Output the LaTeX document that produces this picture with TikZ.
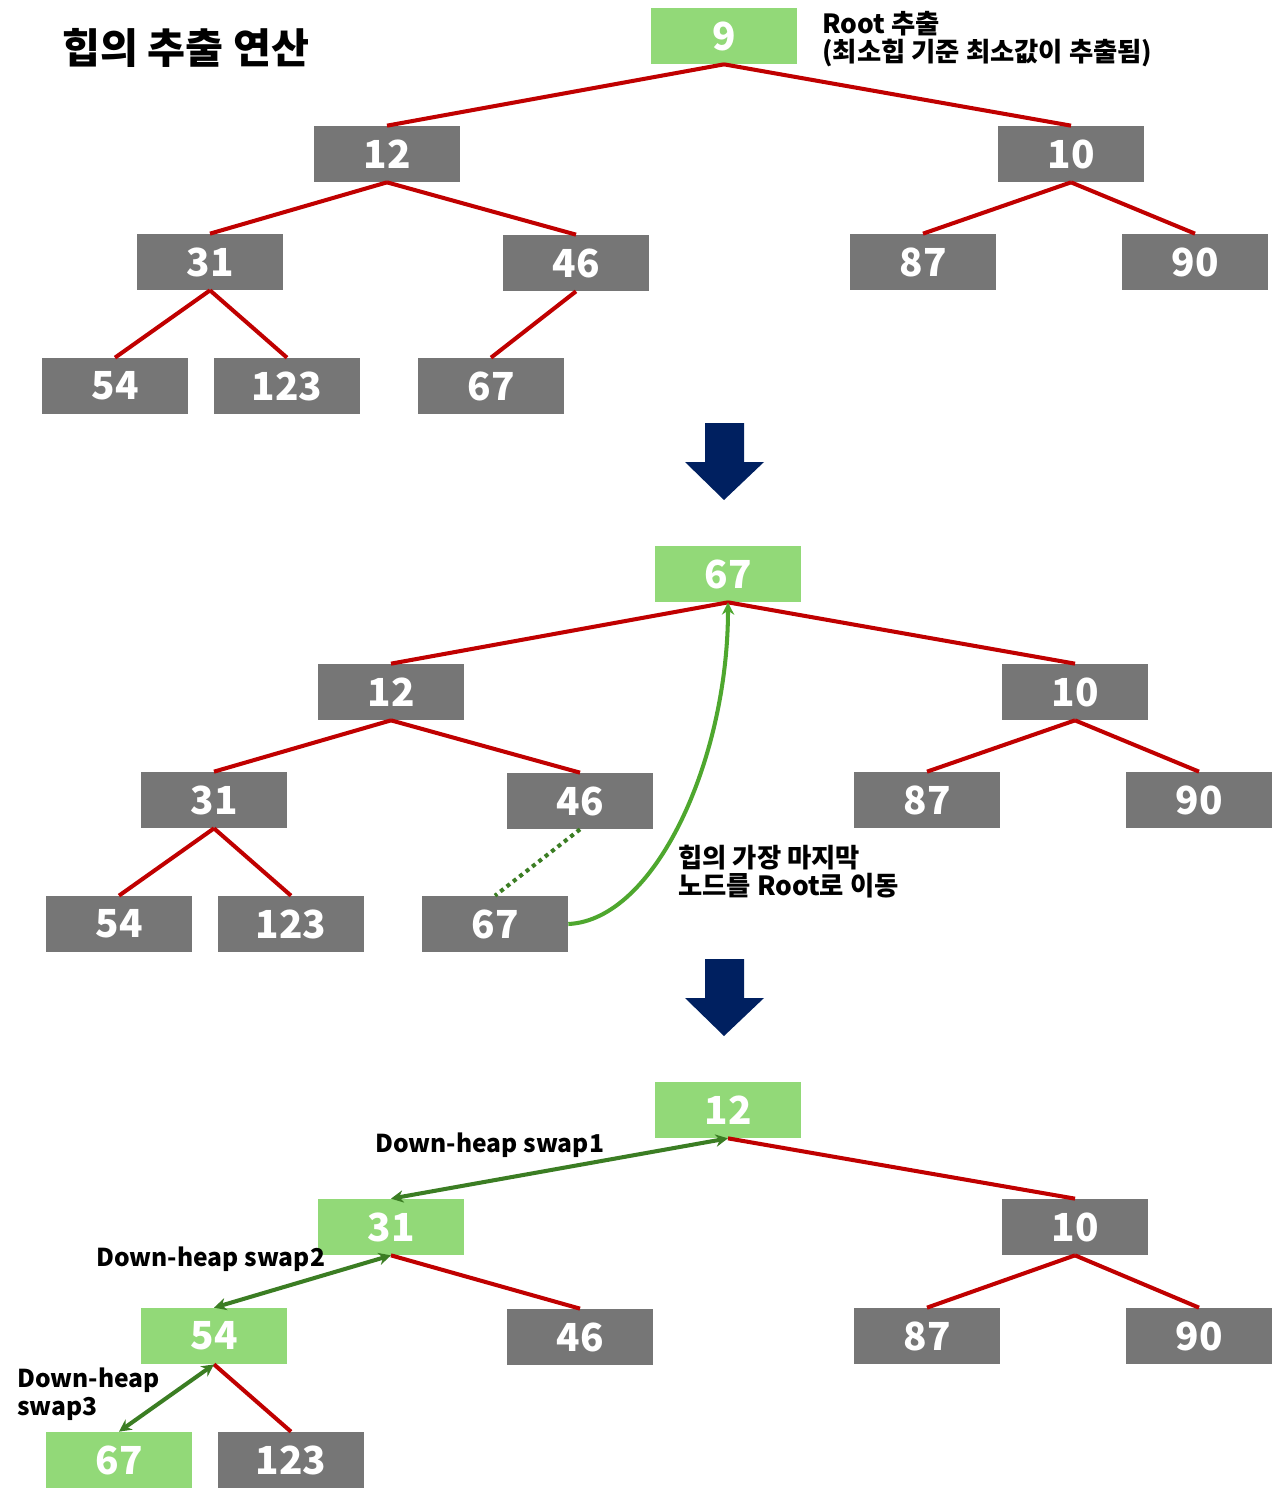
\documentclass[tikz,border=0pt]{standalone}
\usepackage{fontspec}
\usetikzlibrary{arrows.meta}
\setmainfont{Noto Sans CJK KR}
\definecolor{heapgrey}{HTML}{767676}
\definecolor{heapgreen}{HTML}{92D978}
\definecolor{heapred}{HTML}{C00000}
\definecolor{heapnavy}{HTML}{002060}
\definecolor{movegreen}{HTML}{4EA72E}
\definecolor{swapgreen}{HTML}{3B7D23}
\tikzset{
  hnode/.style={fill=heapgrey, text=white, minimum width=2.92cm, minimum height=1.12cm,
    inner sep=0pt, font=\fontsize{22}{24}\selectfont\bfseries},
  hot/.style={hnode, fill=heapgreen},
  edge/.style={heapred, line width=2.3pt},
  swap/.style={<->, swapgreen, line width=2.3pt},
  note/.style={font=\fontsize{14}{16}\selectfont\bfseries, align=left, inner sep=0pt},
  knote/.style={note, font=\fontsize{15}{16}\selectfont\bfseries}
}
\begin{document}
\begin{tikzpicture}[x=0.02cm, y=-0.02cm, >={Stealth[length=7pt,width=7pt]}]
    \useasboundingbox (0,0) rectangle (1278,1507);

    \node[anchor=west, inner sep=0pt, font=\fontsize{23.5}{26}\selectfont\bfseries] (title) at (62,48) {힙의 추출 연산};

    % Tree 1
    \node[hot] (a9) at (724,36) {9};
    \node[hnode] (a12) at (387,154) {12};
    \node[hnode] (a10) at (1071,154) {10};
    \node[hnode] (a31) at (210,262) {31};
    \node[hnode] (a46) at (576,263) {46};
    \node[hnode] (a87) at (923,262) {87};
    \node[hnode] (a90) at (1195,262) {90};
    \node[hnode] (a54) at (115,386) {54};
    \node[hnode] (a123) at (287,386) {123};
    \node[hnode] (a67) at (491,386) {67};
    \draw[edge] (a9.south) -- (a12.north);
    \draw[edge] (a9.south) -- (a10.north);
    \draw[edge] (a12.south) -- (a31.north);
    \draw[edge] (a12.south) -- (a46.north);
    \draw[edge] (a10.south) -- (a87.north);
    \draw[edge] (a10.south) -- (a90.north);
    \draw[edge] (a31.south) -- (a54.north);
    \draw[edge] (a31.south) -- (a123.north);
    \draw[edge] (a46.south) -- (a67.north);
    \node[knote, anchor=north west] (rootnote) at (822,11) {Root 추출\\(최소힙 기준 최소값이 추출됨)};

    \fill[heapnavy] (705,423) -- (744,423) -- (744,462) -- (764,462) -- (724,500) -- (685,462) -- (705,462) -- cycle;

    % Tree 2
    \node[hot] (b67) at (728,574) {67};
    \node[hnode] (b12) at (391,692) {12};
    \node[hnode] (b10) at (1075,692) {10};
    \node[hnode] (b31) at (214,800) {31};
    \node[hnode] (b46) at (580,801) {46};
    \node[hnode] (b87) at (927,800) {87};
    \node[hnode] (b90) at (1199,800) {90};
    \node[hnode] (b54) at (119,924) {54};
    \node[hnode] (b123) at (291,924) {123};
    \node[hnode] (blast) at (495,924) {67};
    \draw[edge] (b67.south) -- (b12.north);
    \draw[edge] (b67.south) -- (b10.north);
    \draw[edge] (b12.south) -- (b31.north);
    \draw[edge] (b12.south) -- (b46.north);
    \draw[edge] (b10.south) -- (b87.north);
    \draw[edge] (b10.south) -- (b90.north);
    \draw[edge] (b31.south) -- (b54.north);
    \draw[edge] (b31.south) -- (b123.north);
    \draw[swapgreen, line width=2.3pt, dash pattern=on 2.3pt off 2.3pt] (b46.south) -- (blast.north);
    \draw[->, movegreen, line width=2.3pt] (blast.east) .. controls (655,920) and (728,760) .. (b67.south);
    \node[knote, anchor=north west] (movenote) at (678,845) {힙의 가장 마지막\\노드를 Root로 이동};

    \fill[heapnavy] (705,959) -- (744,959) -- (744,998) -- (764,998) -- (724,1036) -- (685,998) -- (705,998) -- cycle;

    % Tree 3
    \node[hot] (c12) at (728,1110) {12};
    \node[hot] (c31) at (391,1227) {31};
    \node[hnode] (c10) at (1075,1227) {10};
    \node[hot] (c54) at (214,1336) {54};
    \node[hnode] (c46) at (580,1337) {46};
    \node[hnode] (c87) at (927,1336) {87};
    \node[hnode] (c90) at (1199,1336) {90};
    \node[hot] (c67) at (119,1460) {67};
    \node[hnode] (c123) at (291,1460) {123};
    \draw[edge] (c12.south) -- (c10.north);
    \draw[edge] (c31.south) -- (c46.north);
    \draw[edge] (c10.south) -- (c87.north);
    \draw[edge] (c10.south) -- (c90.north);
    \draw[edge] (c54.south) -- (c123.north);
    \draw[swap] (c12.south) -- (c31.north);
    \draw[swap] (c31.south) -- (c54.north);
    \draw[swap] (c54.south) -- (c67.north);
    \node[note, anchor=west] (swap1) at (375,1145) {Down-heap swap1};
    \node[note, anchor=west] (swap2) at (96,1259) {Down-heap swap2};
    \node[note, anchor=north west] (swap3) at (17,1367) {Down-heap\\swap3};
\end{tikzpicture}
\end{document}
